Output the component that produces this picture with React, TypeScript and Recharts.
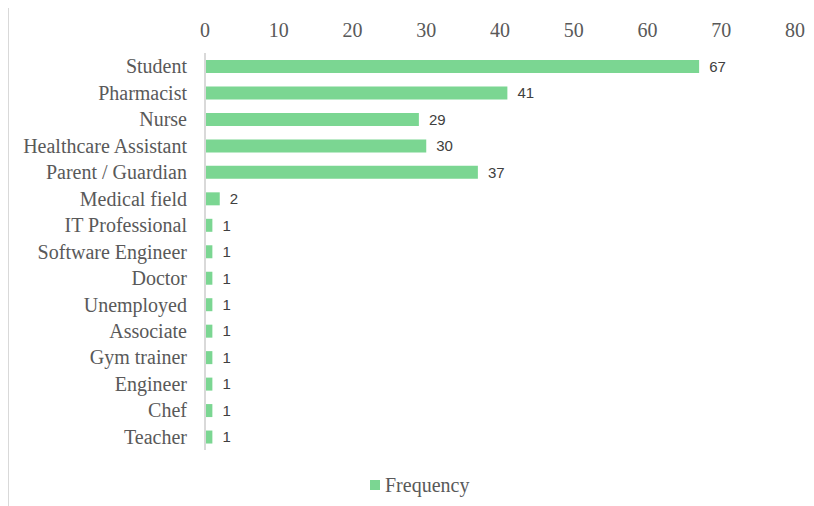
import { type ReactElement } from 'react';

import { Bar, BarChart, LabelList, Legend, XAxis, YAxis } from 'recharts';

const CATEGORIES = [
  'Student',
  'Pharmacist',
  'Nurse',
  'Healthcare Assistant',
  'Parent / Guardian',
  'Medical field',
  'IT Professional',
  'Software Engineer',
  'Doctor',
  'Unemployed',
  'Associate',
  'Gym trainer',
  'Engineer',
  'Chef',
  'Teacher',
];

const FREQUENCY = [67, 41, 29, 30, 37, 2, 1, 1, 1, 1, 1, 1, 1, 1, 1];

const X_TICKS = [0, 10, 20, 30, 40, 50, 60, 70, 80];

const SERIF = '"Liberation Serif", "Times New Roman", serif';
const SANS = '"Liberation Sans", Arial, sans-serif';
const BAR_COLOR = '#7bd692';
const TEXT_COLOR = '#595959';
const LINE_COLOR = '#d9d9d9';

const data = CATEGORIES.map((label, i) => ({ label, value: FREQUENCY[i] }));

function LegendContent(): ReactElement {
  return (
    <div style={{ display: 'flex', alignItems: 'center', height: 20, fontFamily: SERIF }}>
      <span style={{ width: 10, height: 10, background: BAR_COLOR, marginRight: 5 }} />
      <span style={{ fontSize: 20, lineHeight: '20px', color: TEXT_COLOR }}>Frequency</span>
    </div>
  );
}

export default function App(): ReactElement {
  return (
    <div
      style={{
        marginTop: -1,
        borderTop: `1px solid ${LINE_COLOR}`,
        borderLeft: `1px solid ${LINE_COLOR}`,
        width: 805,
        height: 498,
        position: 'relative',
        background: '#fff',
      }}
    >
      <BarChart
        width={805}
        height={498}
        data={data}
        layout="vertical"
        barSize={13}
        margin={{ top: 0, right: 19, bottom: 56, left: 0 }}
      >
        <XAxis
          type="number"
          orientation="top"
          domain={[0, 80]}
          ticks={X_TICKS}
          height={45}
          axisLine={false}
          tickLine={false}
          tickMargin={10}
          tick={{ fill: TEXT_COLOR, fontSize: 20, fontFamily: SERIF }}
        />
        <YAxis
          type="category"
          dataKey="label"
          width={196}
          interval={0}
          axisLine={{ stroke: LINE_COLOR, strokeWidth: 2 }}
          tickLine={false}
          tickMargin={12}
          tick={{ fill: TEXT_COLOR, fontSize: 20, fontFamily: SERIF }}
        />
        <Legend
          layout="horizontal"
          verticalAlign="middle"
          align="center"
          wrapperStyle={{ top: 467, left: 361, width: 'auto' }}
          content={<LegendContent />}
        />
        <Bar dataKey="value" fill={BAR_COLOR} isAnimationActive={false}>
          <LabelList
            dataKey="value"
            position="right"
            offset={10}
            style={{ fill: '#404040', fontSize: 15, fontFamily: SANS }}
          />
        </Bar>
      </BarChart>
    </div>
  );
}
